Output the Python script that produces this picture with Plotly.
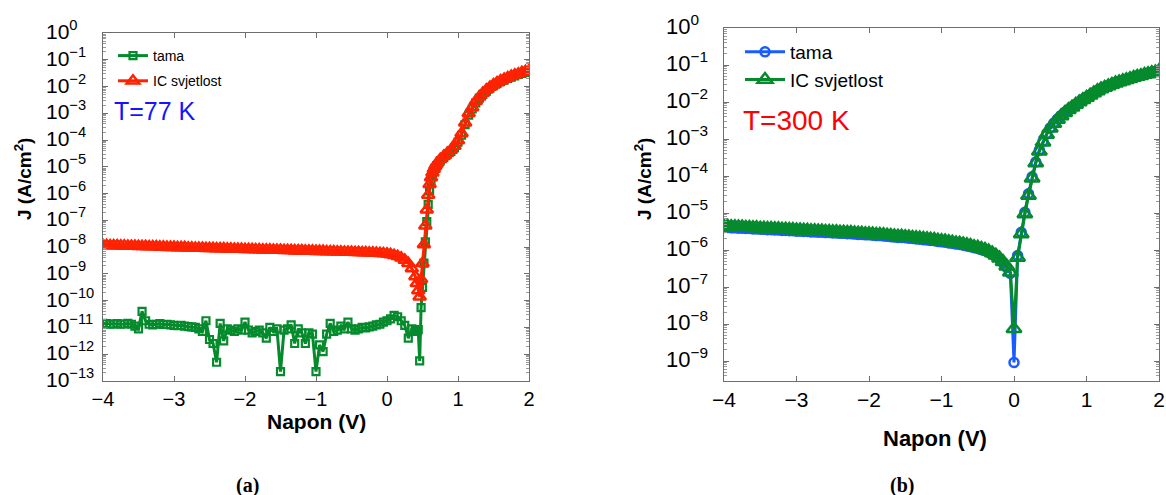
import numpy as np
import plotly.graph_objects as go

# ---------------- Panel (a): T = 77 K ----------------
V_a = np.round(np.concatenate([np.arange(-4.0, 0.401, 0.05),
                               np.arange(0.42, 0.701, 0.02),
                               np.arange(0.75, 2.001, 0.05)]), 2)

# log10 J (A/cm^2), "tama" (dark)
logJ_a_tama = [
    -10.85, -10.86, -10.88, -10.87, -10.86, -10.88, -10.87, -10.85, -10.88, -10.95,
    -11.05, -10.40, -10.75, -10.88, -10.90, -10.88, -10.86, -10.89, -10.88, -10.90,
    -10.92, -10.93, -10.92, -10.95, -10.97, -10.98, -11.00, -11.05, -11.15, -10.75,
    -11.45, -11.60, -12.30, -10.85, -11.50, -11.05, -11.10, -11.15, -11.05, -11.10,
    -10.80, -11.10, -11.20, -11.15, -11.10, -11.20, -11.40, -11.00, -11.15, -11.05,
    -12.65, -11.10, -11.05, -10.90, -11.60, -11.05, -11.20, -11.60, -11.20, -11.25,
    -12.65, -11.65, -11.90, -11.25, -10.85, -11.15, -11.10, -10.95, -11.05, -10.80,
    -11.05, -11.10, -11.05, -11.00, -11.02, -10.98, -10.95, -10.90, -10.88, -10.80,
    -10.75, -10.68, -10.55, -10.60, -10.75, -10.92, -11.40, -11.05, -11.10,
    -11.15, -11.08, -12.25, -10.26, -9.50, -8.60, -7.80, -7.05, -6.40, -5.90,
    -5.55, -5.33, -5.17, -5.05, -4.95,
    -4.78, -4.65, -4.53, -4.42, -4.28, -4.08, -3.82, -3.42, -3.07, -2.84,
    -2.61, -2.43, -2.29, -2.17, -2.06, -1.97, -1.89, -1.82, -1.76, -1.70,
    -1.65, -1.60, -1.55, -1.51, -1.47, -1.42,
]

# log10 J (A/cm^2), "IC svjetlost" (IR light)
logJ_a_ic = [
    -7.93, -7.93, -7.94, -7.94, -7.94, -7.95, -7.95, -7.96, -7.96, -7.96,
    -7.97, -7.97, -7.97, -7.98, -7.98, -7.98, -7.99, -7.99, -8.00, -8.00,
    -8.00, -8.01, -8.01, -8.01, -8.02, -8.02, -8.03, -8.03, -8.03, -8.04,
    -8.04, -8.04, -8.05, -8.05, -8.05, -8.06, -8.06, -8.07, -8.07, -8.07,
    -8.08, -8.08, -8.08, -8.09, -8.09, -8.10, -8.10, -8.10, -8.11, -8.11,
    -8.11, -8.12, -8.12, -8.12, -8.13, -8.13, -8.13, -8.14, -8.14, -8.14,
    -8.15, -8.15, -8.15, -8.16, -8.16, -8.16, -8.17, -8.17, -8.18, -8.18,
    -8.18, -8.19, -8.19, -8.20, -8.20, -8.21, -8.21, -8.22, -8.23, -8.24,
    -8.25, -8.27, -8.30, -8.34, -8.40, -8.48, -8.60, -8.80, -9.10,
    -9.35, -9.62, -9.85, -9.20, -8.60, -7.90, -7.20, -6.60, -6.05, -5.65,
    -5.40, -5.22, -5.08, -4.97, -4.88,
    -4.72, -4.60, -4.48, -4.37, -4.22, -4.02, -3.75, -3.35, -3.00, -2.78,
    -2.55, -2.38, -2.24, -2.12, -2.02, -1.93, -1.85, -1.78, -1.72, -1.66,
    -1.61, -1.56, -1.52, -1.47, -1.43, -1.39,
]

# ---------------- Panel (b): T = 300 K ----------------
V_b = np.round(np.arange(-4.0, 2.001, 0.05), 2)

logJ_b_tama = [
    -5.39, -5.39, -5.40, -5.40, -5.41, -5.41, -5.42, -5.42, -5.43, -5.43,
    -5.44, -5.44, -5.45, -5.45, -5.46, -5.46, -5.47, -5.47, -5.48, -5.48,
    -5.49, -5.49, -5.50, -5.50, -5.51, -5.51, -5.52, -5.52, -5.53, -5.53,
    -5.54, -5.54, -5.55, -5.55, -5.56, -5.56, -5.57, -5.58, -5.58, -5.59,
    -5.59, -5.60, -5.61, -5.61, -5.62, -5.63, -5.64, -5.65, -5.66, -5.66,
    -5.67, -5.68, -5.69, -5.70, -5.71, -5.72, -5.73, -5.74, -5.75, -5.77,
    -5.78, -5.79, -5.81, -5.82, -5.84, -5.85, -5.87, -5.89, -5.91, -5.94,
    -5.96, -5.99, -6.02, -6.06, -6.11, -6.17, -6.25, -6.35, -6.47, -6.63,
    -9.04,
    -6.15, -5.52, -4.98, -4.48, -4.02, -3.62, -3.30, -3.06, -2.86, -2.70,
    -2.57, -2.46, -2.37, -2.28, -2.20, -2.13, -2.06, -1.99, -1.93, -1.87,
    -1.81, -1.75, -1.69, -1.64, -1.60, -1.56, -1.52, -1.48, -1.45, -1.42,
    -1.39, -1.36, -1.33, -1.30, -1.28, -1.25, -1.23, -1.20, -1.18, -1.15,
]

logJ_b_ic = [
    -5.36, -5.36, -5.37, -5.37, -5.38, -5.38, -5.39, -5.39, -5.40, -5.40,
    -5.41, -5.41, -5.42, -5.42, -5.43, -5.43, -5.44, -5.44, -5.45, -5.45,
    -5.46, -5.46, -5.47, -5.47, -5.48, -5.48, -5.49, -5.49, -5.50, -5.50,
    -5.51, -5.51, -5.52, -5.52, -5.53, -5.53, -5.54, -5.55, -5.55, -5.56,
    -5.56, -5.57, -5.58, -5.58, -5.59, -5.60, -5.61, -5.62, -5.63, -5.63,
    -5.64, -5.65, -5.66, -5.67, -5.68, -5.69, -5.70, -5.71, -5.72, -5.74,
    -5.75, -5.76, -5.78, -5.79, -5.81, -5.82, -5.84, -5.86, -5.88, -5.91,
    -5.93, -5.96, -5.99, -6.03, -6.08, -6.14, -6.22, -6.32, -6.44, -6.60,
    -8.13,
    -6.20, -5.57, -5.03, -4.53, -4.06, -3.65, -3.33, -3.09, -2.88, -2.71,
    -2.58, -2.47, -2.38, -2.29, -2.21, -2.14, -2.07, -2.00, -1.94, -1.88,
    -1.82, -1.76, -1.70, -1.65, -1.61, -1.57, -1.53, -1.49, -1.46, -1.43,
    -1.40, -1.37, -1.34, -1.31, -1.29, -1.26, -1.24, -1.21, -1.19, -1.16,
]

# decade exponents labelled on the y axes
DECADES_A = list(range(-13, 1))
DECADES_B = list(range(-9, 1))
X_TICKS = [-4, -3, -2, -1, 0, 1, 2]

assert len(V_a) == len(logJ_a_tama) == len(logJ_a_ic)
assert len(V_b) == len(logJ_b_tama) == len(logJ_b_ic)

GREEN = "#058a2c"
RED = "#ff2200"
BLUE = "#1a5cff"
W, H = 1166, 495
FONT = "Liberation Sans, Arial"


def px(xp):
    return xp / W


def py(yp):
    return 1 - yp / H


fig = go.Figure()

fig.add_trace(go.Scatter(
    x=V_a, y=10 ** np.array(logJ_a_tama), mode="lines+markers", name="tama",
    xaxis="x", yaxis="y", legend="legend", legendgroup="a1",
    line=dict(color=GREEN, width=3),
    marker=dict(symbol="square-open", size=7, color=GREEN, line=dict(width=2.2, color=GREEN))))
fig.add_trace(go.Scatter(
    x=V_a, y=10 ** np.array(logJ_a_ic), mode="lines+markers", name="IC svjetlost",
    xaxis="x", yaxis="y", legend="legend", legendgroup="a2",
    line=dict(color=RED, width=3),
    marker=dict(symbol="triangle-up-open", size=11, color=RED, line=dict(width=2.5, color=RED))))

fig.add_trace(go.Scatter(
    x=V_b, y=10 ** np.array(logJ_b_tama), mode="lines+markers", name="tama",
    xaxis="x2", yaxis="y2", legend="legend2", legendgroup="b1",
    line=dict(color=BLUE, width=3),
    marker=dict(symbol="circle-open", size=9, color=BLUE, line=dict(width=2.5, color=BLUE))))
fig.add_trace(go.Scatter(
    x=V_b, y=10 ** np.array(logJ_b_ic), mode="lines+markers", name="IC svjetlost",
    xaxis="x2", yaxis="y2", legend="legend2", legendgroup="b2",
    line=dict(color=GREEN, width=3),
    marker=dict(symbol="triangle-up-open", size=13, color=GREEN, line=dict(width=2.5, color=GREEN))))


def minor_ticks(decs):
    return [m * 10.0 ** k for k in range(decs[0] - 1, decs[-1]) for m in range(2, 10)]


LINEC = "#6e6e6e"

xcommon = dict(range=[-4, 2], tickmode="array", tickvals=X_TICKS,
               ticks="inside", ticklen=5, tickcolor=LINEC, showline=True, linecolor=LINEC,
               linewidth=1.2, mirror="ticks", showgrid=False, zeroline=False, automargin=False)
ycommon = dict(type="log", tickmode="array", showticklabels=False,
               ticks="inside", ticklen=5, tickcolor=LINEC, showline=True, linecolor=LINEC,
               linewidth=1.2, mirror="ticks", showgrid=False, zeroline=False, automargin=False)

fig.update_layout(
    width=W, height=H, autosize=False,
    margin=dict(l=0, r=0, t=0, b=0),
    paper_bgcolor="white", plot_bgcolor="white",
    font=dict(family=FONT, color="black"),
    xaxis=dict(xcommon, domain=[px(103), px(529)], anchor="y",
               tickfont=dict(size=20, family=FONT, color="black")),
    yaxis=dict(ycommon, range=[-13, 0], domain=[py(381), py(33)], anchor="x",
               tickvals=[10.0 ** k for k in DECADES_A],
               minor=dict(tickmode="array", tickvals=minor_ticks(DECADES_A), ticks="inside",
                          ticklen=3, tickcolor="#9a9a9a", showgrid=False)),
    xaxis2=dict(xcommon, domain=[px(724), px(1159)], anchor="y2",
                tickfont=dict(size=21, family=FONT, color="black")),
    yaxis2=dict(ycommon, range=[-9.54, 0], domain=[py(381), py(28)], anchor="x2",
                tickvals=[10.0 ** k for k in DECADES_B],
                minor=dict(tickmode="array", tickvals=minor_ticks(DECADES_B), ticks="inside",
                           ticklen=3, tickcolor="#9a9a9a", showgrid=False)),
    legend=dict(x=px(113), y=py(40), xanchor="left", yanchor="top",
                bgcolor="rgba(0,0,0,0)", borderwidth=0, tracegroupgap=4,
                font=dict(size=14, family=FONT, color="black"),
                itemwidth=30),
    legend2=dict(x=px(740), y=py(33), xanchor="left", yanchor="top",
                 bgcolor="rgba(0,0,0,0)", borderwidth=0, tracegroupgap=0,
                 font=dict(size=19, family=FONT, color="black"),
                 itemwidth=40),
    showlegend=True,
)

ann = []
# y tick labels (left-aligned, like the reference)
for k in DECADES_A:
    ann.append(dict(text="10<sup>%s</sup>" % str(k).replace("-", "\u2212"),
                    x=px(44), y=k, xref="paper", yref="y", xanchor="left", yanchor="middle",
                    showarrow=False, yshift=3, font=dict(size=21, family=FONT, color="black")))
for k in DECADES_B:
    ann.append(dict(text="10<sup>%s</sup>" % str(k).replace("-", "\u2212"),
                    x=px(664), y=k, xref="paper", yref="y2", xanchor="left", yanchor="middle",
                    showarrow=False, yshift=3, font=dict(size=22, family=FONT, color="black")))

ann.append(dict(text="T=77 K", x=px(112), y=py(111), xref="paper", yref="paper",
                xanchor="left", yanchor="middle", showarrow=False,
                font=dict(size=25, color="#1414ff", family=FONT)))
ann.append(dict(text="T=300 K", x=px(741), y=py(120), xref="paper", yref="paper",
                xanchor="left", yanchor="middle", showarrow=False,
                font=dict(size=28, color="#ff0000", family=FONT)))
for xc in (23, 643):
    ann.append(dict(text="<b>J (A/cm<sup>2</sup>)</b>", x=px(xc), y=py(179), xref="paper",
                    yref="paper", textangle=-90, showarrow=False, xanchor="center",
                    yanchor="middle", font=dict(size=19, color="black", family=FONT)))
ann.append(dict(text="<b>Napon (V)</b>", x=px(316), y=py(421), xref="paper", yref="paper",
                showarrow=False, xanchor="center", yanchor="middle",
                font=dict(size=21, color="black", family=FONT)))
ann.append(dict(text="<b>Napon (V)</b>", x=px(935), y=py(438), xref="paper", yref="paper",
                showarrow=False, xanchor="center", yanchor="middle",
                font=dict(size=22, color="black", family=FONT)))
ann.append(dict(text="<b>(a)</b>", x=px(247), y=py(485), xref="paper", yref="paper",
                showarrow=False, xanchor="center", yanchor="middle",
                font=dict(size=20, color="black", family="Liberation Serif, Times New Roman")))
ann.append(dict(text="<b>(b)</b>", x=px(902), y=py(485), xref="paper", yref="paper",
                showarrow=False, xanchor="center", yanchor="middle",
                font=dict(size=20, color="black", family="Liberation Serif, Times New Roman")))
fig.update_layout(annotations=ann)

fig.write_html("out.html", config={"displayModeBar": False},
               post_script="document.body.style.margin='0px';document.body.style.padding='0px';")
